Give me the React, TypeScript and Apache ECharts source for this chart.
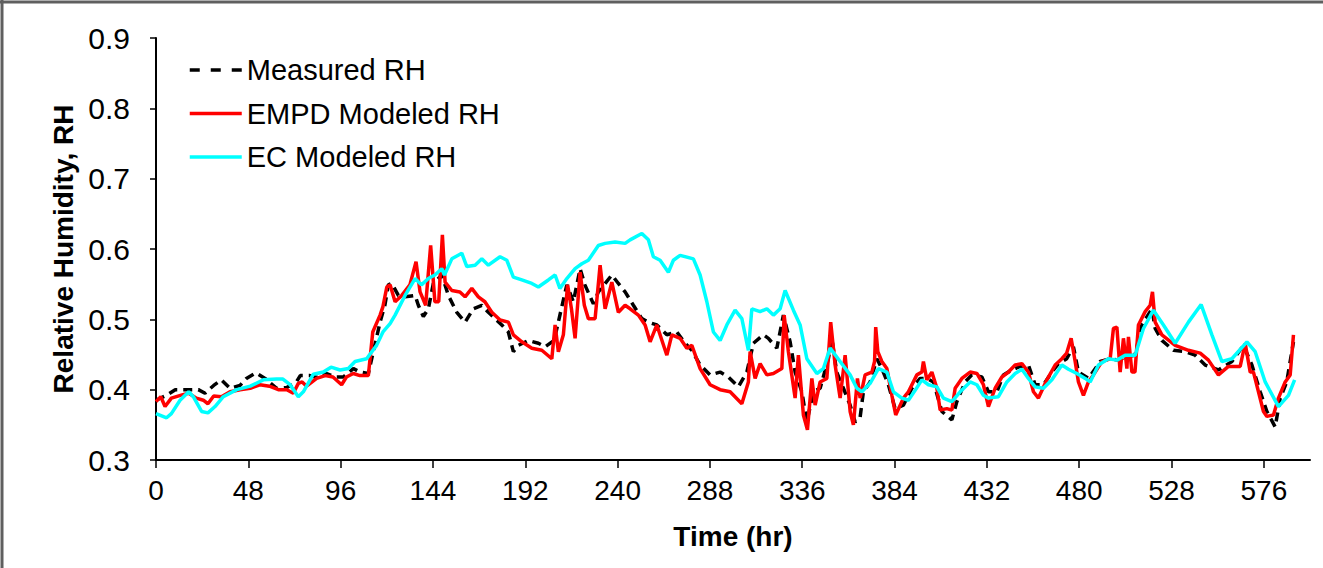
import React, { useEffect, useRef } from "react";
import * as echarts from "echarts";

const FONT = "'Liberation Sans', Arial, Helvetica, sans-serif";

const xTickValues = [0, 48, 96, 144, 192, 240, 288, 336, 384, 432, 480, 528, 576];
const yTickValues = [0.3, 0.4, 0.5, 0.6, 0.7, 0.8, 0.9];

const seriesNames = ["Measured RH", "EMPD Modeled RH", "EC Modeled RH"];

// [time (hr), relative humidity]
const measuredRH: [number, number][] = [
  [0, 0.385], [5.5, 0.392], [10, 0.4], [16, 0.4], [22, 0.4], [25.5, 0.395], [30, 0.406], [34, 0.414],
  [38.5, 0.402], [43.7, 0.406], [47, 0.416], [52, 0.424], [56.7, 0.416], [62.7, 0.402], [68, 0.403],
  [73, 0.411], [75, 0.42], [80, 0.42], [84.4, 0.417], [88.7, 0.423], [93, 0.418], [97.4, 0.418],
  [102.6, 0.43], [106, 0.425], [110.4, 0.423], [113, 0.454], [116.5, 0.496], [119, 0.52], [120.8, 0.549],
  [122.6, 0.551], [126, 0.534], [129.5, 0.532], [134.7, 0.534], [136.4, 0.52], [139, 0.504], [141.6, 0.515],
  [144.2, 0.551], [148.6, 0.563], [152, 0.534], [156.4, 0.51], [160.7, 0.496], [165, 0.515], [169.4, 0.52],
  [172.8, 0.51], [179.8, 0.492], [183.2, 0.482], [185.8, 0.454], [188.4, 0.463], [193.6, 0.47], [198.8, 0.466],
  [202.3, 0.461], [207, 0.47], [213.6, 0.549], [217, 0.525], [220.5, 0.572], [223, 0.549], [227.4, 0.522],
  [230, 0.539], [237, 0.563], [240.4, 0.551], [243.9, 0.539], [248.2, 0.52], [252.6, 0.501], [256, 0.496],
  [260.4, 0.492], [265.6, 0.478], [270.8, 0.482], [275.1, 0.466], [278.6, 0.456], [282.9, 0.435], [288.1, 0.421],
  [293.3, 0.425], [297.6, 0.418], [302.8, 0.404], [307.2, 0.425], [310.6, 0.466], [315.8, 0.478], [318.4, 0.473],
  [322.8, 0.459], [326.2, 0.506], [329.7, 0.468], [332.3, 0.425], [335.8, 0.397], [338.4, 0.354], [341.8, 0.397],
  [345.3, 0.402], [349.6, 0.444], [351.4, 0.473], [353.9, 0.425], [357.4, 0.402], [360.9, 0.378], [363.5, 0.354],
  [366.1, 0.361], [367.8, 0.397], [371.3, 0.411], [374.8, 0.444], [377.4, 0.43], [380.8, 0.407], [384.3, 0.373],
  [388.6, 0.378], [393, 0.402], [397.3, 0.416], [400.8, 0.416], [404.2, 0.411], [408.6, 0.369], [413.8, 0.357],
  [416.4, 0.383], [420.7, 0.411], [424.2, 0.421], [429.4, 0.418], [432.8, 0.397], [437.2, 0.397], [440.6, 0.421],
  [445, 0.428], [449.3, 0.433], [453.6, 0.435], [457.1, 0.407], [461.4, 0.407], [465.8, 0.425], [469.2, 0.437],
  [473.5, 0.444], [477, 0.461], [479.6, 0.425], [484.8, 0.416], [490.9, 0.44], [496.1, 0.444], [500.4, 0.442],
  [504.8, 0.447], [509, 0.449], [512.6, 0.492], [517.8, 0.515], [519.5, 0.487], [523, 0.47], [529, 0.456],
  [535.1, 0.454], [540.3, 0.449], [545.5, 0.435], [552.4, 0.428], [559.4, 0.44], [565.4, 0.463], [569.8, 0.435],
  [574.1, 0.397], [577.6, 0.369], [581.9, 0.347], [584.5, 0.388], [587.9, 0.411], [591.4, 0.468],
];

const empdRH: [number, number][] = [
  [0, 0.383], [2.5, 0.39], [4.7, 0.376], [8, 0.388], [14, 0.393], [17, 0.395], [21, 0.388], [24.6, 0.385],
  [27, 0.38], [30, 0.391], [34, 0.39], [38.5, 0.397], [43.7, 0.4], [49, 0.402], [54, 0.407], [59, 0.405],
  [63.6, 0.4], [68, 0.4], [71.4, 0.395], [74, 0.409], [76, 0.411], [78.3, 0.405], [83.5, 0.416], [88, 0.42],
  [92, 0.418], [96.5, 0.407], [99, 0.418], [102.6, 0.423], [106, 0.42], [110.4, 0.42], [112.7, 0.482],
  [116.5, 0.506], [118, 0.518], [120, 0.546], [121.7, 0.549], [124.3, 0.525], [127.8, 0.534], [132, 0.549],
  [135.2, 0.582], [137.3, 0.539], [140.2, 0.52], [142.8, 0.605], [145, 0.525], [147, 0.525], [148.9, 0.62],
  [150.3, 0.553], [153.8, 0.541], [158, 0.539], [160.7, 0.532], [164.2, 0.544], [167.6, 0.532], [171, 0.525],
  [174.6, 0.51], [178.9, 0.499], [183.2, 0.496], [185.8, 0.478], [190.2, 0.468], [195.4, 0.459], [200.6, 0.456],
  [205.8, 0.444], [207.5, 0.492], [209.2, 0.454], [211.8, 0.478], [214, 0.549], [216, 0.515], [217.9, 0.473],
  [220.5, 0.567], [222.7, 0.52], [224.8, 0.501], [228.3, 0.501], [230.9, 0.577], [233.5, 0.515], [237, 0.553],
  [240.4, 0.51], [243.9, 0.52], [246.5, 0.515], [250.8, 0.506], [254.3, 0.492], [256.9, 0.468], [260.4, 0.492],
  [265.6, 0.449], [268.2, 0.478], [272.5, 0.473], [276, 0.459], [278.6, 0.463], [282.9, 0.43], [288.1, 0.407],
  [293.3, 0.4], [298.5, 0.397], [304.6, 0.38], [308, 0.411], [308.9, 0.454], [311.5, 0.416], [314.1, 0.437],
  [317.6, 0.421], [321, 0.423], [325.4, 0.43], [326.6, 0.506], [328.8, 0.454], [332.3, 0.388], [334, 0.449],
  [336.6, 0.364], [338.7, 0.343], [341, 0.416], [342.7, 0.378], [345.3, 0.411], [348.8, 0.416], [350.8, 0.496],
  [353.1, 0.435], [355.7, 0.388], [358.3, 0.449], [360.9, 0.369], [362.6, 0.35], [364.7, 0.416], [366.1, 0.388],
  [368.7, 0.421], [372.2, 0.425], [373.6, 0.44], [374.2, 0.489], [375.3, 0.454], [377.4, 0.44], [380, 0.43],
  [382.6, 0.392], [384.6, 0.364], [388.6, 0.388], [391.2, 0.397], [395.6, 0.421], [398.2, 0.425], [399, 0.44],
  [400.8, 0.414], [403.4, 0.425], [406, 0.402], [407.7, 0.371], [411.2, 0.373], [413.8, 0.371], [415.5, 0.402],
  [419, 0.416], [423.3, 0.425], [426.8, 0.423], [430.2, 0.407], [432.8, 0.376], [436.3, 0.402], [439.8, 0.418],
  [443.2, 0.425], [446.7, 0.435], [450.2, 0.437], [453.6, 0.425], [456.2, 0.397], [458.8, 0.388], [463.2, 0.414],
  [467.5, 0.435], [471, 0.444], [473.5, 0.452], [475.8, 0.473], [477.9, 0.44], [479.6, 0.411], [482.2, 0.392],
  [484.8, 0.411], [487.4, 0.421], [491.8, 0.44], [496.1, 0.444], [497.8, 0.487], [499.6, 0.489], [501.3, 0.425],
  [503, 0.473], [504.8, 0.43], [505.6, 0.475], [507.4, 0.425], [509, 0.425], [510.8, 0.492], [514.3, 0.511],
  [516.9, 0.52], [518.1, 0.539], [519.5, 0.496], [523, 0.478], [529.9, 0.463], [536.8, 0.456], [542.9, 0.452],
  [547.2, 0.442], [552.4, 0.421], [557.6, 0.433], [563.7, 0.433], [566.3, 0.466], [568.9, 0.425], [570.6, 0.425],
  [573.2, 0.397], [575.8, 0.369], [577.6, 0.362], [581, 0.364], [583.6, 0.388], [587.1, 0.411], [589.7, 0.421],
  [591.4, 0.478],
];

const ecRH: [number, number][] = [
  [0, 0.366], [5.5, 0.36], [8, 0.366], [12.5, 0.385], [17, 0.397], [19.4, 0.39], [23.7, 0.369], [27, 0.367],
  [30.7, 0.376], [35, 0.39], [42, 0.4], [49, 0.405], [55.8, 0.414], [62.7, 0.415], [66, 0.415], [69.7, 0.407],
  [74, 0.39], [76.6, 0.397], [81.8, 0.422], [87, 0.425], [91, 0.432], [95.7, 0.428], [100, 0.43], [103.5, 0.44],
  [109.5, 0.444], [114.7, 0.463], [118, 0.482], [121.7, 0.494], [124.3, 0.506], [129.5, 0.534], [134.7, 0.558],
  [138, 0.549], [141.6, 0.558], [145, 0.563], [148.6, 0.572], [150, 0.563], [153.8, 0.586], [159, 0.594],
  [161.6, 0.575], [165.9, 0.577], [169.4, 0.586], [172.8, 0.577], [178.9, 0.589], [182.4, 0.584], [185.8, 0.56],
  [190.2, 0.556], [195.4, 0.551], [198.8, 0.546], [204, 0.556], [207.5, 0.563], [210, 0.544], [213.6, 0.558],
  [217.9, 0.572], [221.4, 0.579], [224.8, 0.584], [230, 0.605], [233.5, 0.608], [238.7, 0.61], [243.9, 0.608],
  [246.5, 0.613], [252.6, 0.622], [256, 0.613], [258.6, 0.589], [262.1, 0.584], [266.4, 0.567], [269, 0.584],
  [272.5, 0.591], [279.4, 0.586], [282.9, 0.563], [286.4, 0.525], [289.8, 0.482], [293.3, 0.47], [296.8, 0.492],
  [301.1, 0.513], [304.6, 0.501], [308, 0.456], [309.8, 0.515], [314.1, 0.511], [317.6, 0.515], [321, 0.506],
  [324.5, 0.515], [327.1, 0.541], [331.4, 0.513], [334.9, 0.492], [338.4, 0.444], [343.6, 0.423], [347, 0.43],
  [350.5, 0.459], [355.7, 0.44], [360.9, 0.421], [364.4, 0.402], [367, 0.397], [371.3, 0.409], [375.6, 0.43],
  [380, 0.425], [383.4, 0.397], [387.8, 0.388], [391.2, 0.385], [394.7, 0.399], [398.2, 0.414], [401.6, 0.407],
  [406, 0.404], [409.4, 0.388], [413.8, 0.383], [418.1, 0.397], [423.3, 0.411], [426.8, 0.407], [430.2, 0.392],
  [432.8, 0.388], [438, 0.39], [442.4, 0.411], [446.7, 0.423], [450.2, 0.429], [453.6, 0.416], [457.1, 0.404],
  [461.4, 0.402], [465.8, 0.414], [471, 0.435], [474.4, 0.429], [478.8, 0.423], [483.1, 0.416], [485.7, 0.411],
  [490, 0.435], [495.2, 0.444], [499.6, 0.442], [503.9, 0.449], [509.1, 0.449], [513.4, 0.487], [518.6, 0.513],
  [523.8, 0.492], [529.9, 0.466], [536.8, 0.496], [543.4, 0.521], [549, 0.478], [554.2, 0.44], [559.4, 0.444],
  [567.2, 0.468], [571.5, 0.454], [576.7, 0.411], [583.6, 0.376], [588.8, 0.392], [592, 0.414],
];

export default function App() {
  const ref = useRef<HTMLDivElement>(null);

  useEffect(() => {
    document.body.style.margin = "0";
    const chart = echarts.init(ref.current!, null, { renderer: "svg" });
    chart.setOption({
      animation: false,
      backgroundColor: "#ffffff",
      textStyle: { fontFamily: FONT },
      grid: { left: 156, right: 13, top: 38, bottom: 108, containLabel: false },
      legend: {
        orient: "vertical",
        left: 188,
        top: 55,
        padding: 0,
        itemWidth: 52,
        itemHeight: 14,
        itemGap: 13.5,
        itemStyle: { color: "rgba(0,0,0,0)", borderWidth: 0, opacity: 0 },
        lineStyle: { width: 3.5 },
        textStyle: { fontSize: 29, color: "#000", fontFamily: FONT, lineHeight: 30 },
        data: [
          { name: seriesNames[0], lineStyle: { width: 3.5, type: [10, 11] } },
          { name: seriesNames[1] },
          { name: seriesNames[2] },
        ],
      },
      graphic: [
        { type: "line", shape: { x1: 0, y1: 2, x2: 1323, y2: 2 }, style: { stroke: "#5f5f5f", lineWidth: 3 } },
        { type: "line", shape: { x1: 2, y1: 0, x2: 2, y2: 568 }, style: { stroke: "#5f5f5f", lineWidth: 3 } },
      ],
      xAxis: {
        type: "value",
        min: 0,
        max: 600,
        interval: 48,
        name: "Time (hr)",
        nameLocation: "middle",
        nameGap: 62,
        nameTextStyle: { fontSize: 28, fontWeight: "bold", color: "#000", fontFamily: FONT },
        axisLine: { lineStyle: { color: "#000", width: 2 } },
        axisTick: { show: true, length: 8, lineStyle: { color: "#000", width: 1.5 }, customValues: xTickValues },
        axisLabel: { fontSize: 28, color: "#000", margin: 16, fontFamily: FONT, customValues: xTickValues },
        splitLine: { show: false },
      },
      yAxis: {
        type: "value",
        min: 0.3,
        max: 0.9,
        interval: 0.1,
        name: "Relative Humidity, RH",
        nameLocation: "middle",
        nameRotate: 90,
        nameGap: 76,
        nameTextStyle: { fontSize: 28, fontWeight: "bold", color: "#000", fontFamily: FONT },
        axisLine: { show: true, lineStyle: { color: "#000", width: 2 } },
        axisTick: { show: true, length: 6, lineStyle: { color: "#000", width: 1.5 }, customValues: yTickValues },
        axisLabel: {
          fontSize: 30,
          color: "#000",
          margin: 26,
          fontFamily: FONT,
          customValues: yTickValues,
          formatter: (v: number) => v.toFixed(1),
        },
        splitLine: { show: false },
      },
      series: [
        {
          name: seriesNames[0],
          type: "line",
          data: measuredRH,
          symbol: "none",
          showSymbol: false,
          lineStyle: { color: "#000", width: 3.5, type: [9, 6] },
          itemStyle: { color: "#000" },
        },
        {
          name: seriesNames[1],
          type: "line",
          data: empdRH,
          symbol: "none",
          showSymbol: false,
          lineStyle: { color: "#ff0000", width: 3.5 },
          itemStyle: { color: "#ff0000" },
        },
        {
          name: seriesNames[2],
          type: "line",
          data: ecRH,
          symbol: "none",
          showSymbol: false,
          lineStyle: { color: "#00ffff", width: 3.5 },
          itemStyle: { color: "#00ffff" },
        },
      ],
    });
    return () => chart.dispose();
  }, []);

  return <div ref={ref} style={{ width: 1323, height: 568 }} />;
}
